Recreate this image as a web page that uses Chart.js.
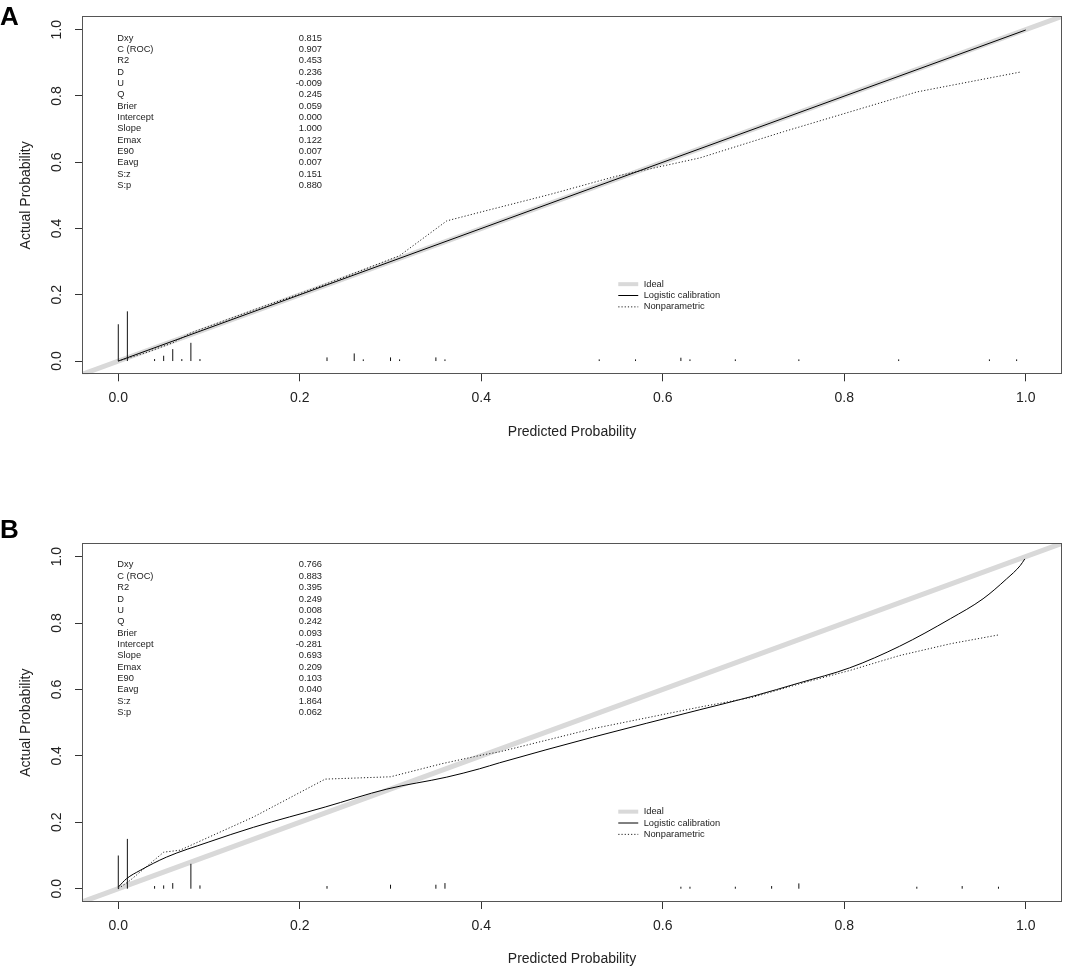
<!DOCTYPE html>
<html>
<head>
<meta charset="utf-8">
<script src="https://cdn.jsdelivr.net/npm/chart.js@4.4.0/dist/chart.umd.min.js"></script>
<style>
  body { margin: 0; background: #fff; width: 1065px; height: 973px; overflow: hidden; position: relative; font-family: Arial, "Liberation Sans", sans-serif; }
  .panel { position: absolute; left: 0; }
  .tag { position: absolute; left: 0; font-weight: bold; font-size: 26px; line-height: 26px; color: #000; }
</style>
</head>
<body>
<canvas id="chartA" class="panel" width="1065" height="486" style="top:0"></canvas>
<canvas id="chartB" class="panel" width="1065" height="487" style="top:486px"></canvas>
<div class="tag" style="top:3px">A</div>
<div class="tag" style="top:516px">B</div>
<script>
// axes
const xTicks = [0, 0.2, 0.4, 0.6, 0.8, 1.0];
const yTicks = [0, 0.2, 0.4, 0.6, 0.8, 1.0];
const idealX = [-0.04, 1.04];

// stats block
const statNames = ['Dxy', 'C (ROC)', 'R2', 'D', 'U', 'Q', 'Brier', 'Intercept', 'Slope', 'Emax', 'E90', 'Eavg', 'S:z', 'S:p'];
const statsA = ['0.815', '0.907', '0.453', '0.236', '-0.009', '0.245', '0.059', '0.000', '1.000', '0.122', '0.007', '0.007', '0.151', '0.880'];
const statsB = ['0.766', '0.883', '0.395', '0.249', '0.008', '0.242', '0.093', '-0.281', '0.693', '0.209', '0.103', '0.040', '1.864', '0.062'];

// panel A curves
const logAx = [0.0, 0.5, 1.0];
const logAy = [0.0, 0.5, 0.999];
const npAx = [0.0, 0.03, 0.06, 0.08, 0.1, 0.15, 0.2, 0.243, 0.31, 0.362, 0.4, 0.476, 0.549, 0.586, 0.641, 0.733, 0.88, 0.994];
const npAy = [0.0, 0.025, 0.055, 0.085, 0.105, 0.155, 0.203, 0.247, 0.318, 0.423, 0.45, 0.503, 0.558, 0.58, 0.613, 0.692, 0.812, 0.872];
const spikeAx = [0.0, 0.01, 0.04, 0.05, 0.06, 0.07, 0.08, 0.09, 0.23, 0.26, 0.27, 0.30, 0.31, 0.35, 0.36, 0.53, 0.57, 0.62, 0.63, 0.68, 0.75, 0.86, 0.96, 0.99];
const spikeAh = [0.111, 0.15, 0.006, 0.016, 0.036, 0.006, 0.055, 0.006, 0.011, 0.023, 0.005, 0.011, 0.005, 0.011, 0.005, 0.005, 0.005, 0.01, 0.005, 0.005, 0.005, 0.005, 0.005, 0.005];

// panel B curves
const logBx = [0.0, 0.009, 0.024, 0.053, 0.099, 0.149, 0.228, 0.296, 0.362, 0.398, 0.42, 0.5226, 0.641, 0.700, 0.751, 0.806, 0.861, 0.917, 0.953, 0.979, 0.994, 0.999];
const logBy = [0.005, 0.03, 0.055, 0.095, 0.14, 0.185, 0.246, 0.30, 0.336, 0.361, 0.379, 0.456, 0.539, 0.580, 0.620, 0.665, 0.730, 0.813, 0.873, 0.933, 0.973, 0.993];
const npBx = [0.0, 0.013, 0.05, 0.068, 0.149, 0.228, 0.30, 0.356, 0.398, 0.42, 0.5226, 0.641, 0.700, 0.751, 0.806, 0.861, 0.917, 0.971];
const npBy = [0.0, 0.025, 0.11, 0.116, 0.216, 0.33, 0.337, 0.376, 0.401, 0.412, 0.4816, 0.547, 0.577, 0.617, 0.657, 0.702, 0.7375, 0.7646];
const spikeBx = [0.0, 0.01, 0.04, 0.05, 0.06, 0.08, 0.09, 0.23, 0.30, 0.35, 0.36, 0.62, 0.63, 0.68, 0.72, 0.75, 0.88, 0.93, 0.97];
const spikeBh = [0.10, 0.15, 0.008, 0.01, 0.017, 0.075, 0.01, 0.008, 0.012, 0.012, 0.017, 0.006, 0.006, 0.006, 0.008, 0.016, 0.006, 0.008, 0.006];

const FONT = 'Arial, "Liberation Sans", sans-serif';
Chart.defaults.font.family = FONT;

function pairs(xs, ys) {
  return xs.map((v, i) => ({ x: v, y: ys[i] }));
}

// each spike is a little segment from 0 up, nulls break the line
function spikes(xs, hs) {
  const out = [];
  xs.forEach((v, i) => {
    out.push({ x: v, y: 0 }, { x: v, y: hs[i] }, { x: v, y: null });
  });
  return out;
}

// box, stats table and legend drawn inside the plot
const panelText = {
  id: 'panelText',
  afterDatasetsDraw(chart, args, opts) {
    const { ctx, chartArea: a, scales: { x, y } } = chart;
    ctx.save();
    ctx.strokeStyle = '#555';
    ctx.lineWidth = 1;
    ctx.strokeRect(Math.round(a.left) + 0.5, Math.round(a.top) + 0.5, Math.round(a.width) - 1, Math.round(a.height) - 1);

    ctx.font = '9.3px ' + FONT;
    ctx.fillStyle = '#222';
    ctx.textBaseline = 'middle';
    const rowGap = 11.35;
    const top = y.getPixelForValue(0.975);
    statNames.forEach((name, i) => {
      ctx.textAlign = 'left';
      ctx.fillText(name, x.getPixelForValue(0) - 1, top + i * rowGap);
      ctx.textAlign = 'right';
      ctx.fillText(opts.stats[i], x.getPixelForValue(0.2245), top + i * rowGap);
    });

    const lx0 = x.getPixelForValue(0.551);
    const lx1 = x.getPixelForValue(0.573);
    const ltx = x.getPixelForValue(0.579);
    const ly = y.getPixelForValue(0.232);
    ['Ideal', 'Logistic calibration', 'Nonparametric'].forEach((lab, i) => {
      const ds = chart.data.datasets.find(d => d.label === lab);
      const yy = ly + i * rowGap;
      ctx.beginPath();
      ctx.strokeStyle = ds.borderColor;
      ctx.lineWidth = lab === 'Ideal' ? 4 : ds.borderWidth;
      ctx.setLineDash(ds.borderDash || []);
      ctx.moveTo(lx0, yy);
      ctx.lineTo(lx1, yy);
      ctx.stroke();
      ctx.setLineDash([]);
      ctx.textAlign = 'left';
      ctx.fillText(lab, ltx, yy);
    });
    ctx.restore();
  }
};

function makePanel(id, padTop, padBottom, logX, logY, npX, npY, spX, spH, stats) {
  return new Chart(document.getElementById(id), {
    type: 'line',
    data: {
      datasets: [
        { label: 'Spikes', data: spikes(spX, spH), borderColor: '#111', borderWidth: 1, pointRadius: 0, spanGaps: false },
        { label: 'Nonparametric', data: pairs(npX, npY), borderColor: '#222', borderWidth: 1, borderDash: [1.2, 2], pointRadius: 0 },
        { label: 'Logistic calibration', data: pairs(logX, logY), borderColor: '#000', borderWidth: 1, pointRadius: 0, cubicInterpolationMode: 'monotone' },
        { label: 'Ideal', data: idealX.map(v => ({ x: v, y: v })), borderColor: '#d9d9d9', borderWidth: 5, pointRadius: 0 },
      ],
    },
    options: {
      responsive: false,
      animation: false,
      events: [],
      layout: { padding: { top: padTop, bottom: padBottom, left: 0, right: 3 } },
      plugins: {
        legend: { display: false },
        tooltip: { enabled: false },
        panelText: { stats: stats },
      },
      scales: {
        x: {
          type: 'linear',
          min: -0.04,
          max: 1.04,
          afterBuildTicks: (s) => { s.ticks = xTicks.map(v => ({ value: v })); },
          afterFit: (s) => { s.height = 70; },
          ticks: { font: { size: 14 }, color: '#222', padding: 8.3, maxRotation: 0, callback: (v) => Number(v).toFixed(1) },
          grid: { drawOnChartArea: false, drawTicks: true, tickLength: 7, color: '#333' },
          border: { display: false },
          title: { display: true, text: 'Predicted Probability', font: { size: 14 }, color: '#222', padding: { top: 0, bottom: 4 } },
        },
        y: {
          min: -0.04,
          max: 1.04,
          afterBuildTicks: (s) => { s.ticks = yTicks.map(v => ({ value: v })); },
          afterFit: (s) => { s.width = 82; },
          ticks: { font: { size: 14 }, color: '#222', padding: 8, minRotation: 90, maxRotation: 90, crossAlign: 'center', callback: (v) => Number(v).toFixed(1) },
          grid: { drawOnChartArea: false, drawTicks: true, tickLength: 7, color: '#333' },
          border: { display: false },
          title: { display: true, text: 'Actual Probability', font: { size: 14 }, color: '#222', padding: { top: 17.6, bottom: 0 } },
        },
      },
    },
    plugins: [panelText],
  });
}

makePanel('chartA', 14.7, 41.7, logAx, logAy, npAx, npAy, spikeAx, spikeAh, statsA);
makePanel('chartB', 57.3, 1, logBx, logBy, npBx, npBy, spikeBx, spikeBh, statsB);
</script>
</body>
</html>
